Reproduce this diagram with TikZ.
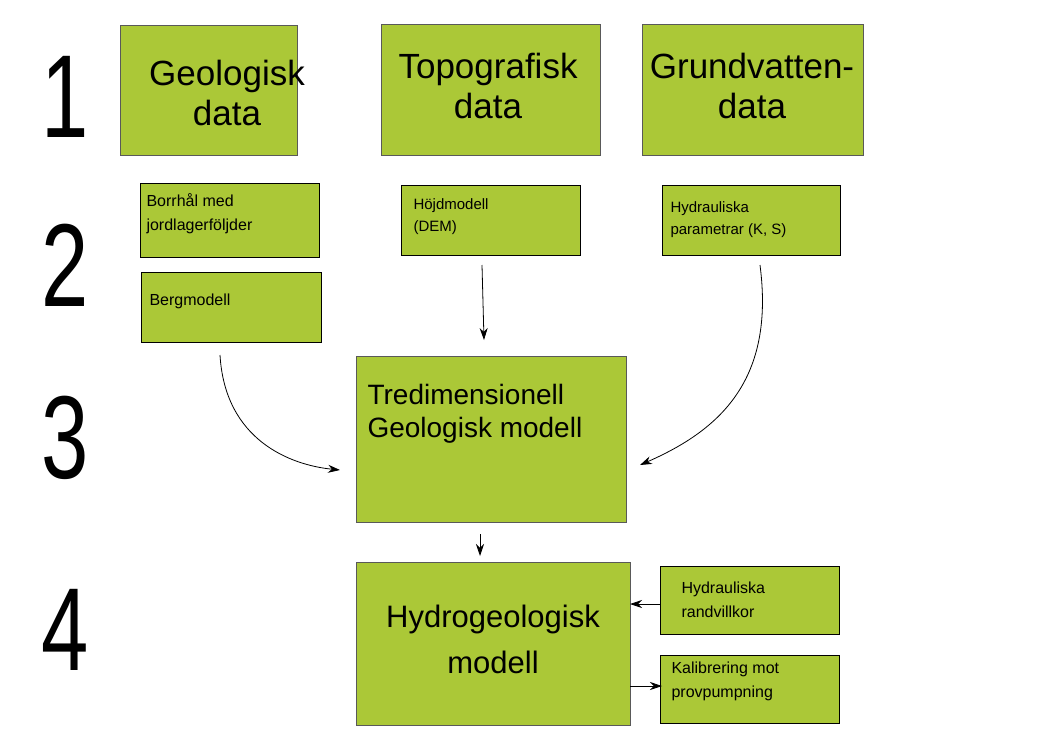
\documentclass[tikz,border=0pt]{standalone}
\usepackage{fontspec}
\setmainfont{Liberation Sans}
\usetikzlibrary{arrows.meta}
\definecolor{gr}{HTML}{ABC837}
\tikzset{x=1pt,y=-1pt,
 bx/.style={fill=gr,draw=gray!70!black,line width=0.6pt},
 sbx/.style={fill=gr},
 big/.style={font=\fontsize{35}{40}\selectfont,align=center},
 mid/.style={font=\fontsize{28}{33}\selectfont,align=left,anchor=north west},
 sm/.style={font=\fontsize{16}{24}\selectfont,align=left,anchor=north west},
 num/.style={font=\fontsize{118}{118}\selectfont,xscale=0.72},
 ar/.style={-{Stealth[length=12pt,width=8pt]},line width=0.8pt}}
\begin{document}
\begin{tikzpicture}
\useasboundingbox[fill=white] (0,0) rectangle (1053,745);
\node[num] (n1) at (65,97) {1};
\node[num] (n2) at (65,265) {2};
\node[num] (n3) at (65,438) {3};
\node[num] (n4) at (65,630) {4};
\draw[bx] (120,25) rectangle (297,155);
\node[big] (g) at (227,93) {Geologisk\\data};
\draw[bx] (381,24) rectangle (600,155);
\node[big] (t) at (488,86) {Topografisk\\data};
\draw[bx] (642,24) rectangle (863,155);
\node[big] (w) at (752,86) {Grundvatten-\\data};
\draw[sbx] (140,183) rectangle (319,257);
\node[sm] (b) at (143,190) {Borrhål med\\jordlagerföljder};
\draw[sbx] (141,272) rectangle (321,342);
\node[sm] (bm) at (146,290) {Bergmodell};
\draw[sbx] (401,185) rectangle (580,255);
\node[sm,font=\fontsize{15}{22}\selectfont] (h) at (410,195) {Höjdmodell\\(DEM)};
\draw[sbx] (662,185) rectangle (840,255);
\node[sm,font=\fontsize{15}{22}\selectfont] (hp) at (667,198) {Hydrauliska\\parametrar (K, S)};
\draw[bx] (356,356) rectangle (626,522);
\node[mid] (td) at (364,381) {Tredimensionell\\Geologisk modell};
\draw[bx] (356,562) rectangle (630,725);
\node[big,font=\fontsize{31}{46}\selectfont] (hg) at (493,639) {Hydrogeologisk\\modell};
\draw[sbx] (660,566) rectangle (839,634);
\node[sm] (rv) at (678,578) {Hydrauliska\\randvillkor};
\draw[sbx] (660,655) rectangle (839,723);
\node[sm] (kb) at (668,658) {Kalibrering mot\\provpumpning};
\coordinate (a1) at (482,265); \coordinate (a2) at (484,340);
\draw[ar] (a1) -- (a2);
\coordinate (b1) at (220,355); \coordinate (b2) at (340,470);
\draw[ar] (b1) .. controls (225,440) and (290,465) .. (b2);
\coordinate (c1) at (760,265); \coordinate (c2) at (640,465);
\draw[ar] (c1) .. controls (775,380) and (720,430) .. (c2);
\coordinate (d1) at (480,534); \coordinate (d2) at (480,556);
\draw[ar] (d1) -- (d2);
\coordinate (e1) at (660,604); \coordinate (e2) at (630,604);
\draw[ar] (e1) -- (e2);
\coordinate (f1) at (630,686); \coordinate (f2) at (662,686);
\draw[ar] (f1) -- (f2);
\end{tikzpicture}
\end{document}
